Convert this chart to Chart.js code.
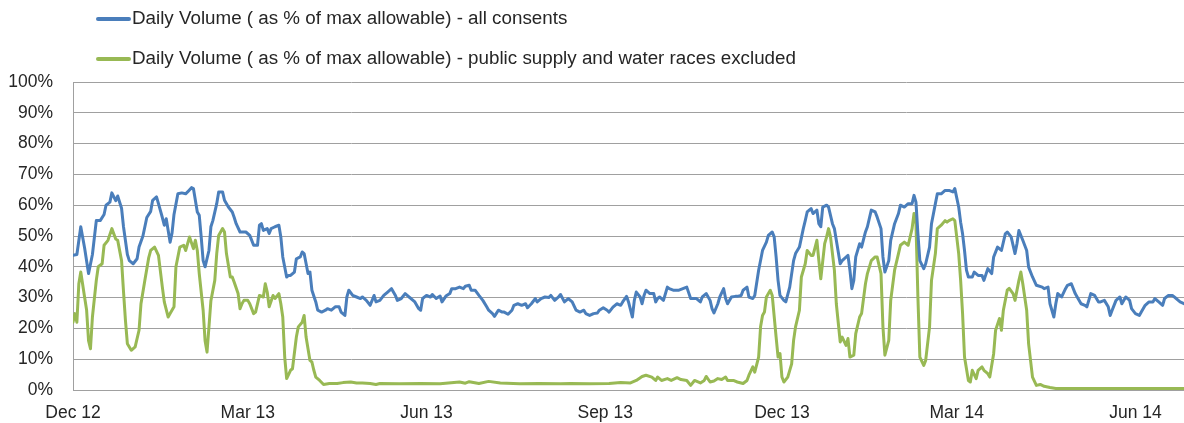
<!DOCTYPE html>
<html>
<head>
<meta charset="utf-8">
<style>
  body { margin: 0; background: #fff; }
  #wrap { width: 1184px; height: 423px; }
</style>
</head>
<body>
<div id="wrap"><canvas id="myChart"></canvas></div>
<script src="https://cdn.jsdelivr.net/npm/chart.js@4.4.1/dist/chart.umd.min.js"></script>
<script>
// x values are days since 1 Dec 2012
const tickDays = [0, 90, 182, 274, 365, 455, 547];
const tickLabels = ["Dec 12", "Mar 13", "Jun 13", "Sep 13", "Dec 13", "Mar 14", "Jun 14"];
const seriesNames = [
    "Daily Volume ( as % of max allowable) - all consents",
    "Daily Volume ( as % of max allowable) - public supply and water races excluded"
];

const allDays = [0,2,4,6,8,10,12,14,16,17,19,20,22,23,25,26,28,29,31,33,34,36,38,40,41,43,44,46,47,48,50,51,52,54,56,58,59,61,62,63,64,65,66,67,68,70,71,72,74,75,77,78,80,82,83,84,86,88,89,91,93,95,96,97,98,100,101,102,104,106,107,108,110,111,112,114,115,117,118,119,121,122,123,125,126,128,130,131,133,135,137,138,140,141,142,144,146,148,149,151,153,155,156,158,160,162,164,166,167,169,171,173,174,176,178,179,180,182,184,185,187,189,190,192,194,195,197,199,201,202,204,205,207,209,211,213,214,216,217,219,221,222,224,226,227,229,231,233,234,236,238,239,241,243,245,246,248,250,251,253,255,257,259,261,263,264,266,268,270,271,273,275,276,278,280,282,283,285,286,288,289,290,292,293,294,295,297,299,300,301,302,304,306,307,309,311,312,314,316,318,319,321,323,324,326,328,329,330,332,333,335,336,337,339,341,342,344,345,347,348,350,351,353,355,357,358,360,361,362,363,364,366,367,369,371,372,374,376,377,378,380,381,383,384,385,386,388,389,391,392,393,395,396,397,399,400,401,402,403,405,406,408,409,411,413,414,416,417,418,420,421,423,425,426,428,430,432,433,434,435,436,438,439,441,442,444,445,447,449,450,451,453,454,456,457,458,459,460,461,463,464,466,468,469,471,473,474,476,478,480,481,483,485,486,487,489,491,492,494,496,499,500,502,503,505,506,507,509,511,512,514,516,517,519,521,522,524,526,528,529,531,533,534,535,537,539,540,542,544,545,547,549,550,552,554,556,557,559,561,562,564,566,568,570,572];
const allConsents = [43.7,44,53,46,37.8,44,55,55,57,60,61,64,61.5,63,59,53,44,42,41,42.6,46.4,50,56,58,61.6,62.7,60.5,56,53.5,55.6,48,51,57,63.7,64,63.7,64.3,65.7,65.4,61.6,57.8,56.7,49.7,42,40,45.3,53,55,60.5,64.3,64.3,61.6,59.4,57.8,56,54,51.3,51.3,51.3,50.2,47,47,53.5,54,51.8,52.4,50.8,52.4,53,53.5,49.7,43.2,36.7,37.2,37.2,38.3,42.6,43.2,44.8,44.3,37.8,38.3,32.4,28.6,25.9,25.3,25.9,26.4,25.9,27,27,25.3,24.2,30.2,32.4,30.7,30.2,29.7,30.2,29.1,27.5,30.7,28.6,29.1,30.7,31.8,32.9,30.7,29.1,29.7,31.3,30.2,29.7,28.6,26.4,25.9,29.7,30.7,30.2,31,29.7,30.5,28.6,30.5,31.3,32.9,32.9,33.4,32.9,33.7,34,32.4,32.4,30.7,29.1,27,25.9,24.8,23.9,25.9,25.3,25.3,24.6,25.9,27.5,28,27.5,28,26.7,28,29.7,28.6,29.7,30.2,30,30.7,29.1,30.2,31,28.6,29.7,28.6,25.9,25.3,25.9,24.8,24.2,24.8,25,25.9,26.7,25.9,25.3,26.9,28,27.5,28.6,30.4,28.6,23.7,29.1,31.8,30.2,28,30.7,32.4,31.3,31.3,28.6,29.7,30.2,29.1,33.4,32.9,32.4,32.4,32.4,32.9,33.4,29.7,29.7,29.7,28.6,30.2,31.3,29.1,26.4,25,28,30.2,32.9,29.7,28,30.2,30.4,30.4,30.7,32.4,33.4,30.2,29.7,30.7,38.9,45.3,48,50.2,51.3,49.7,43.2,35.6,30.7,29.1,28.6,33.4,42,44.3,46.4,52.4,55,57.8,58.9,57.3,58.4,54,53,59.4,60,59.4,54,52.4,48.6,41,42,42.6,43.7,38.9,32.9,35.6,43.2,47.5,46.4,51.3,53,58.4,57.8,56.2,52.4,43.2,38.3,42,48.6,54,57.3,60,59.4,60.5,60.5,63.2,61,50.8,42,39.4,41,46.4,54,60.5,63.7,63.7,64.8,64.8,64.8,64.3,65.4,59.4,54.5,50.7,45.3,38.9,36.7,36.7,38.3,37.2,37.2,35.6,39.4,37.8,43.2,46.4,45.3,50.7,51.3,49.7,44.3,47.5,51.8,48.6,45.3,39.9,36.7,34,33.4,32.9,33.4,28,23.7,28,31.3,30.2,32.9,34,34.5,31.3,30.2,28,27.5,27,31.3,30.7,28.6,28.6,29.1,27,24.2,25.9,29.1,30.2,28,30.2,29.1,26.4,24.8,24.2,25.3,27.5,28.6,28.6,29.7,28.6,27.5,29.7,30.7,30.7,29.7,28.6,28];

const exclDays = [0,1,2,3,4,6,7,8,9,10,12,13,15,16,18,20,22,23,25,26,27,28,30,32,34,35,37,39,40,42,44,46,47,49,50,52,53,55,57,58,60,62,63,64,65,67,68,69,70,71,73,74,75,77,78,79,81,82,83,85,86,87,88,90,91,93,94,96,98,99,100,101,103,104,106,107,108,109,110,112,113,115,116,118,119,120,122,123,124,125,127,129,132,136,139,143,146,149,153,156,158,168,179,189,199,202,204,209,214,220,230,240,251,256,266,276,282,287,290,293,295,298,300,301,303,306,308,311,313,316,318,320,323,325,326,328,330,332,334,336,337,340,342,345,347,348,350,351,353,354,355,356,357,359,360,362,363,364,365,366,368,370,371,372,374,375,377,378,380,381,383,384,385,387,388,389,390,392,393,395,396,398,399,400,402,403,405,406,408,409,411,413,414,416,417,418,420,421,423,425,426,428,430,432,433,434,435,436,438,439,441,442,444,445,447,449,450,451,453,454,456,457,458,459,461,462,463,465,466,468,469,471,472,474,475,477,478,479,481,482,484,485,487,488,489,491,492,494,496,498,500,503,506,511,520,537,572];
const exclSupply = [22,24.8,22,34.5,38.3,30,26,16,13.4,23.7,35.6,40,41,47,48.6,52.4,49,48.6,42,32,22.6,15,12.9,14,19.4,28,35.6,43,45.3,46.4,43.7,33.4,28.6,23.7,24.8,27,40,46.4,47,45.3,49.7,45.9,48.6,45.3,37.8,25.9,16,12.3,20.5,29,35.6,44.3,50.2,52.4,51.3,44.3,36.7,36.7,35,31.3,26.4,28,29.1,29.1,28,24.8,25.3,30.7,30.2,34.5,31.8,27,30.7,29.7,31.3,28,23.7,10.7,3.7,6.4,6.9,17.2,20.5,22,24.2,17.2,9.6,9.1,6.4,4.2,3.1,1.8,2.1,2.1,2.4,2.6,2.3,2.3,2.1,1.8,2.1,2,2.1,2,2.6,2.2,2.7,2.1,2.8,2.3,2,2.1,2,2.1,2,2.1,2.4,2.3,3.1,4.4,4.8,4.2,3.1,4.2,3.1,3.7,3.1,4,3.4,3.1,1.5,3.1,2.3,3.1,4.4,2.6,2.9,3.7,3.4,4.2,3.1,3.1,2.6,2.1,3.1,4.8,7.5,5.8,10.7,20.5,24.2,25.3,30.2,32.4,30.7,17.2,10.7,11.8,4.2,2.6,4.2,8.5,16.1,20.5,25.9,36.7,41,45.3,43.7,43.7,48.6,42,36.1,47.5,49.7,52.4,49.7,38.9,28,15.6,17.2,14.5,16.7,10.7,11.3,18.3,23.7,24.8,34.5,37.8,42,43.2,43.2,37.8,20.5,11.3,16.1,29.1,38.9,44.3,47,48,47,52.4,57.3,54,30.2,10.7,8,9.6,20.5,35.6,44.3,52.4,53.5,55,54.5,55,55.6,55,44.3,35.6,24.8,10.7,3.1,2.6,6.4,3.7,6.4,7.5,6.4,5.3,4.2,11.8,19.4,23.2,19.4,25.9,32.4,33,31.3,29.1,35.6,38.3,34.5,25.9,15,4.2,1.5,1.8,1.2,0.8,0.5,0.5,0.5,0.5,0.5];

const FONT = "Liberation Sans";

function toPoints(xs, ys) {
    return xs.map((x, i) => ({ x: x, y: ys[i] }));
}

// two stacked legend rows drawn above the plot, like the original
const stackedLegend = {
    id: "stackedLegend",
    afterDraw(chart) {
        const ctx = chart.ctx;
        chart.data.datasets.forEach((ds, i) => {
            const y = 19 + i * 40;
            ctx.save();
            ctx.strokeStyle = ds.borderColor;
            ctx.lineWidth = 4;
            ctx.lineCap = "round";
            ctx.beginPath();
            ctx.moveTo(98, y);
            ctx.lineTo(129, y);
            ctx.stroke();
            ctx.fillStyle = "#262626";
            ctx.font = "18.8px '" + FONT + "'";
            ctx.textBaseline = "middle";
            ctx.fillText(ds.label, 132, y);
            ctx.restore();
        });
    }
};

const chart = new Chart("myChart", {
    type: "line",
    data: {
        datasets: [{
            label: seriesNames[0],
            data: toPoints(allDays, allConsents),
            borderColor: "#4a7ebb",
            borderWidth: 3,
            borderJoinStyle: "round",
            borderCapStyle: "round",
            pointRadius: 0,
            fill: false
        }, {
            label: seriesNames[1],
            data: toPoints(exclDays, exclSupply),
            borderColor: "#98b954",
            borderWidth: 3,
            borderJoinStyle: "round",
            borderCapStyle: "round",
            pointRadius: 0,
            fill: false
        }]
    },
    options: {
        responsive: true,
        maintainAspectRatio: false,
        animation: false,
        devicePixelRatio: 1,
        layout: { padding: { top: 82, left: 0, right: 0, bottom: 0 } },
        plugins: {
            legend: { display: false },
            tooltip: { enabled: false }
        },
        scales: {
            x: {
                type: "linear",
                min: 0,
                max: 572,
                afterBuildTicks: (scale) => {
                    scale.ticks = tickDays.map(v => ({ value: v }));
                },
                afterFit: (scale) => { scale.height = 33; },
                ticks: {
                    autoSkip: false,
                    maxRotation: 0,
                    padding: 13,
                    color: "#262626",
                    font: { family: FONT, size: 17.5 },
                    callback: (v) => tickLabels[tickDays.indexOf(v)]
                },
                grid: { display: false, drawTicks: false },
                border: { color: "#a0a0a0" }
            },
            y: {
                min: 0,
                max: 100,
                afterFit: (scale) => { scale.width = 73; },
                ticks: {
                    stepSize: 10,
                    padding: 20,
                    color: "#262626",
                    font: { family: FONT, size: 17.5 },
                    callback: (v) => v + "%"
                },
                grid: { color: "#a0a0a0", drawTicks: false },
                border: { color: "#a0a0a0" }
            }
        }
    },
    plugins: [stackedLegend]
});
</script>
</body>
</html>
